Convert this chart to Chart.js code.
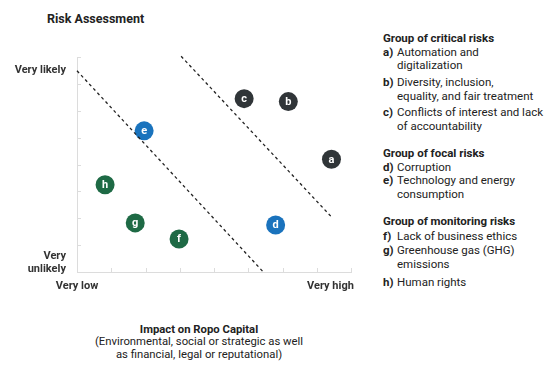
<!DOCTYPE html>
<html>
<head>
<meta charset="utf-8">
<script src="https://cdn.jsdelivr.net/npm/chart.js@4.4.0/dist/chart.umd.min.js"></script>
<style>
  body { margin: 0; background: #fff; font-family: Roboto, sans-serif; color: #333; }
  #wrap { position: relative; width: 556px; height: 365px; }
  #title { position: absolute; left: 47px; top: 11px; font-weight: bold; font-size: 12.5px; color: #222; }
  #chartbox { position: absolute; left: 0; top: 40px; width: 370px; height: 260px; }
  #xcap { position: absolute; left: 79px; width: 240px; top: 323.5px; text-align: center; font-size: 11.3px; line-height: 12.7px; color: #222; }
  #legend { position: absolute; left: 383px; top: 32px; width: 172px; font-size: 11.5px; line-height: 13.5px; color: #222; }
  .grp { font-weight: bold; }
  .g2, .g3 { margin-top: 14px; }
  .it { padding-left: 14px; text-indent: -14px; margin-top: 3.5px; white-space: nowrap; }
  .it b { display: inline-block; text-indent: 0; width: 14px; }
</style>
</head>
<body>
<div id="wrap">
  <div id="title">Risk Assessment</div>
  <div id="chartbox"><canvas id="chart"></canvas></div>
  <div id="xcap"><b>Impact on Ropo Capital</b><br>(Environmental, social or strategic as well<br>as financial, legal or reputational)</div>
  <div id="legend">
    <div class="grp">Group of critical risks</div>
    <div class="it" style="margin-top:0"><b>a)</b>Automation and<br>digitalization</div>
    <div class="it"><b>b)</b>Diversity, inclusion,<br>equality, and fair treatment</div>
    <div class="it" style="margin-top:3px"><b>c)</b>Conflicts of interest and lack<br>of accountability</div>
    <div class="grp g2">Group of focal risks</div>
    <div class="it" style="margin-top:0"><b>d)</b>Corruption</div>
    <div class="it" style="margin-top:0"><b>e)</b>Technology and energy<br>consumption</div>
    <div class="grp g3">Group of monitoring risks</div>
    <div class="it" style="margin-top:1px"><b>f)</b>Lack of business ethics</div>
    <div class="it" style="margin-top:1px"><b>g)</b>Greenhouse gas (GHG)<br>emissions</div>
    <div class="it" style="margin-top:4.5px"><b>h)</b>Human rights</div>
  </div>
</div>
<script>
// risk positions: impact (x) and likelihood (y), 0..8 scale
var criticalLetters = ['a', 'b', 'c'];
var criticalImpact = [7.43, 6.17, 4.88];
var criticalLikelihood = [4.2, 6.35, 6.46];

var focalLetters = ['d', 'e'];
var focalImpact = [5.8, 1.96];
var focalLikelihood = [1.75, 5.26];

var monitoringLetters = ['f', 'g', 'h'];
var monitoringImpact = [2.98, 1.7, 0.82];
var monitoringLikelihood = [1.23, 1.83, 3.25];

// dashed boundaries between groups
var lowerBoundX = [0, 5.44];
var lowerBoundY = [7.5, 0];
var upperBoundX = [3.04, 7.46];
var upperBoundY = [8.04, 2.01];

// axis tick labels
var xTickValues = [0, 7.4];
var xTickLabels = ['Very low', 'Very high'];
var yTickValues = [0.35, 7.5];
var yTickLabels = [['Very', 'unlikely'], 'Very likely'];

function pts(xs, ys) {
    return xs.map(function (x, i) { return { x: x, y: ys[i] }; });
}

function bubbles(xs, ys, letters, color) {
    return {
        data: pts(xs, ys),
        letters: letters,
        backgroundColor: color,
        borderWidth: 0,
        pointRadius: 9.5,
        pointHoverRadius: 9.5
    };
}

function bound(xs, ys) {
    return {
        type: 'line',
        data: pts(xs, ys),
        borderColor: '#222',
        borderWidth: 1.3,
        borderDash: [3, 3],
        pointRadius: 0,
        fill: false,
        clip: false
    };
}

// short inner tick marks on the axes
var innerTicks = {
    id: 'innerTicks',
    afterDraw: function (chart) {
        var c = chart.ctx, xs = chart.scales.x, ys = chart.scales.y, a = chart.chartArea;
        c.save();
        c.strokeStyle = '#dcdcdc';
        c.lineWidth = 1;
        c.beginPath();
        for (var v = 0; v <= 8; v++) {
            var px = Math.round(xs.getPixelForValue(v)) + 0.5;
            c.moveTo(px, a.bottom);
            c.lineTo(px, a.bottom - 4);
            var py = Math.round(ys.getPixelForValue(v)) + 0.5;
            c.moveTo(a.left, py);
            c.lineTo(a.left + 4, py);
        }
        c.stroke();
        c.restore();
    }
};

var letterLabels = {
    id: 'letterLabels',
    afterDatasetsDraw: function (chart) {
        var c = chart.ctx;
        c.save();
        c.fillStyle = '#fff';
        c.font = 'bold 11px Roboto';
        c.textAlign = 'center';
        c.textBaseline = 'middle';
        chart.data.datasets.forEach(function (ds, i) {
            if (!ds.letters) return;
            chart.getDatasetMeta(i).data.forEach(function (el, j) {
                c.fillText(ds.letters[j], el.x, el.y + 0.5);
            });
        });
        c.restore();
    }
};

var ctx = document.getElementById('chart');
var myChart = new Chart(ctx, {
    type: 'scatter',
    data: {
        datasets: [
            bound(lowerBoundX, lowerBoundY),
            bound(upperBoundX, upperBoundY),
            bubbles(criticalImpact, criticalLikelihood, criticalLetters, '#303538'),
            bubbles(focalImpact, focalLikelihood, focalLetters, '#1a73bd'),
            bubbles(monitoringImpact, monitoringLikelihood, monitoringLetters, '#1e6a45')
        ]
    },
    options: {
        responsive: true,
        maintainAspectRatio: false,
        animation: false,
        layout: { padding: { top: 17, right: 19, left: 0, bottom: 0 } },
        plugins: {
            legend: { display: false },
            tooltip: { enabled: false }
        },
        scales: {
            x: {
                type: 'linear',
                min: 0,
                max: 8,
                afterBuildTicks: function (s) {
                    s.ticks = xTickValues.map(function (v) { return { value: v }; });
                },
                afterFit: function (s) { s.height = 28; },
                ticks: {
                    autoSkip: false,
                    maxRotation: 0,
                    padding: 8,
                    color: '#333',
                    font: { family: 'Roboto', size: 11, weight: 'bold' },
                    callback: function (v, i) { return xTickLabels[i]; }
                },
                grid: { display: false, drawTicks: false },
                border: { color: '#dcdcdc' }
            },
            y: {
                type: 'linear',
                min: 0,
                max: 8,
                afterBuildTicks: function (s) {
                    s.ticks = yTickValues.map(function (v) { return { value: v }; });
                },
                afterFit: function (s) { s.width = 77; },
                ticks: {
                    autoSkip: false,
                    padding: 11,
                    color: '#333',
                    font: { family: 'Roboto', size: 11, weight: 'bold', lineHeight: 1.15 },
                    callback: function (v, i) { return yTickLabels[i]; }
                },
                grid: { display: false, drawTicks: false },
                border: { color: '#dcdcdc' }
            }
        }
    },
    plugins: [innerTicks, letterLabels]
});
</script>
</body>
</html>
